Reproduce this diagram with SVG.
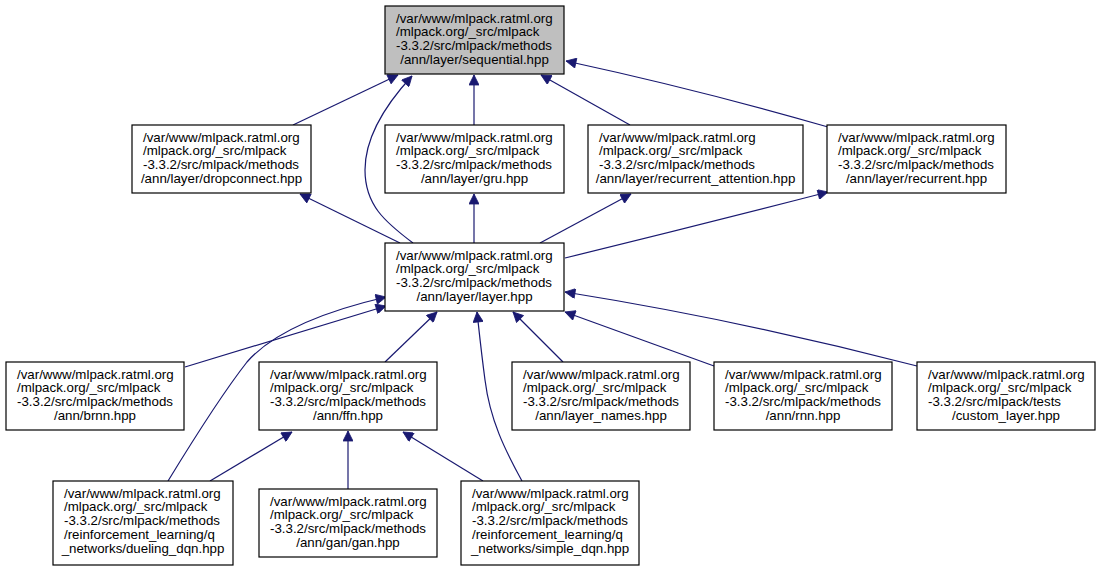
<svg xmlns="http://www.w3.org/2000/svg" width="1101" height="571" viewBox="0 0 1101 571">
<style>
.n rect{fill:#fff;stroke:#000;stroke-width:1.2}
.root rect{fill:#bfbfbf}
text{font-family:"Liberation Sans",Arial,sans-serif;font-size:13.3px;fill:#000}
.c{text-anchor:middle}
.e path{fill:none;stroke:#191970;stroke-width:1.2;marker-end:url(#ah)}
</style>
<defs>
<marker id="ah" viewBox="0 0 10 10" refX="10" refY="5" markerWidth="12" markerHeight="10" markerUnits="userSpaceOnUse" orient="auto">
<path d="M0,0 L10,5 L0,10 z" fill="#191970" stroke="#191970" stroke-width="0.8"/>
</marker>
</defs>
<rect width="1101" height="571" fill="#fff"/>
<g class="e" id="edges">
<path d="M293,125 L398,75"/>
<path d="M413,243 C385,222 365,205 365,170 C365,135 388,102 412,76"/>
<path d="M474,125 L474,75"/>
<path d="M630,125 L541,75"/>
<path d="M828,127 Q700,90 566,61"/>
<path d="M400,243 L300,194"/>
<path d="M474,243 L474,194"/>
<path d="M540,243 L631,194"/>
<path d="M565,258 Q700,225 828,192"/>
<path d="M185,367 L386,306"/>
<path d="M168,481 C190,445 225,390 247,362 C275,330 330,310 386,297"/>
<path d="M385,362 L437,312"/>
<path d="M522,481 C505,450 490,420 485,380 C481,350 479,330 477,312"/>
<path d="M563,362 L513,312"/>
<path d="M714,366 L565,312"/>
<path d="M917,366 Q740,320 565,292"/>
<path d="M210,481 L292,432"/>
<path d="M348,489 L348,431"/>
<path d="M483,481 L403,432"/>
</g>
<g class="n root" id="sequential">
<rect x="385" y="6" width="179" height="68"/>
<text x="396" y="22.5">/var/www/mlpack.ratml.org</text>
<text x="396" y="36.3">/mlpack.org/_src/mlpack</text>
<text x="396" y="50.1">-3.3.2/src/mlpack/methods</text>
<text class="c" x="474.5" y="63.9">/ann/layer/sequential.hpp</text>
</g>
<g class="n" id="dropconnect">
<rect x="132" y="125" width="179" height="68"/>
<text x="143" y="141.5">/var/www/mlpack.ratml.org</text>
<text x="143" y="155.3">/mlpack.org/_src/mlpack</text>
<text x="143" y="169.1">-3.3.2/src/mlpack/methods</text>
<text class="c" x="221.5" y="182.9">/ann/layer/dropconnect.hpp</text>
</g>
<g class="n" id="gru">
<rect x="385" y="125" width="179" height="68"/>
<text x="396" y="141.5">/var/www/mlpack.ratml.org</text>
<text x="396" y="155.3">/mlpack.org/_src/mlpack</text>
<text x="396" y="169.1">-3.3.2/src/mlpack/methods</text>
<text class="c" x="474.5" y="182.9">/ann/layer/gru.hpp</text>
</g>
<g class="n" id="recurrent_attention">
<rect x="588" y="125" width="215" height="68"/>
<text x="599" y="141.5">/var/www/mlpack.ratml.org</text>
<text x="599" y="155.3">/mlpack.org/_src/mlpack</text>
<text x="599" y="169.1">-3.3.2/src/mlpack/methods</text>
<text class="c" x="695.5" y="182.9">/ann/layer/recurrent_attention.hpp</text>
</g>
<g class="n" id="recurrent">
<rect x="827" y="125" width="179" height="68"/>
<text x="838" y="141.5">/var/www/mlpack.ratml.org</text>
<text x="838" y="155.3">/mlpack.org/_src/mlpack</text>
<text x="838" y="169.1">-3.3.2/src/mlpack/methods</text>
<text class="c" x="916.5" y="182.9">/ann/layer/recurrent.hpp</text>
</g>
<g class="n" id="layer">
<rect x="385" y="243" width="179" height="68"/>
<text x="396" y="259.5">/var/www/mlpack.ratml.org</text>
<text x="396" y="273.3">/mlpack.org/_src/mlpack</text>
<text x="396" y="287.1">-3.3.2/src/mlpack/methods</text>
<text class="c" x="474.5" y="300.9">/ann/layer/layer.hpp</text>
</g>
<g class="n" id="brnn">
<rect x="6" y="362" width="178" height="68"/>
<text x="17" y="378.5">/var/www/mlpack.ratml.org</text>
<text x="17" y="392.3">/mlpack.org/_src/mlpack</text>
<text x="17" y="406.1">-3.3.2/src/mlpack/methods</text>
<text class="c" x="95" y="419.9">/ann/brnn.hpp</text>
</g>
<g class="n" id="ffn">
<rect x="259" y="362" width="178" height="68"/>
<text x="270" y="378.5">/var/www/mlpack.ratml.org</text>
<text x="270" y="392.3">/mlpack.org/_src/mlpack</text>
<text x="270" y="406.1">-3.3.2/src/mlpack/methods</text>
<text class="c" x="348" y="419.9">/ann/ffn.hpp</text>
</g>
<g class="n" id="layer_names">
<rect x="512" y="362" width="178" height="68"/>
<text x="523" y="378.5">/var/www/mlpack.ratml.org</text>
<text x="523" y="392.3">/mlpack.org/_src/mlpack</text>
<text x="523" y="406.1">-3.3.2/src/mlpack/methods</text>
<text class="c" x="601" y="419.9">/ann/layer_names.hpp</text>
</g>
<g class="n" id="rnn">
<rect x="714" y="362" width="178" height="68"/>
<text x="725" y="378.5">/var/www/mlpack.ratml.org</text>
<text x="725" y="392.3">/mlpack.org/_src/mlpack</text>
<text x="725" y="406.1">-3.3.2/src/mlpack/methods</text>
<text class="c" x="803" y="419.9">/ann/rnn.hpp</text>
</g>
<g class="n" id="custom_layer">
<rect x="917" y="362" width="178" height="68"/>
<text x="928" y="378.5">/var/www/mlpack.ratml.org</text>
<text x="928" y="392.3">/mlpack.org/_src/mlpack</text>
<text x="928" y="406.1">-3.3.2/src/mlpack/tests</text>
<text class="c" x="1006" y="419.9">/custom_layer.hpp</text>
</g>
<g class="n" id="dueling_dqn">
<rect x="53" y="481" width="180" height="84"/>
<text x="64" y="497.5">/var/www/mlpack.ratml.org</text>
<text x="64" y="511.3">/mlpack.org/_src/mlpack</text>
<text x="64" y="525.1">-3.3.2/src/mlpack/methods</text>
<text x="64" y="538.9">/reinforcement_learning/q</text>
<text class="c" x="143" y="552.7">_networks/dueling_dqn.hpp</text>
</g>
<g class="n" id="gan">
<rect x="259" y="489" width="178" height="68"/>
<text x="270" y="505.5">/var/www/mlpack.ratml.org</text>
<text x="270" y="519.3">/mlpack.org/_src/mlpack</text>
<text x="270" y="533.1">-3.3.2/src/mlpack/methods</text>
<text class="c" x="348" y="546.9">/ann/gan/gan.hpp</text>
</g>
<g class="n" id="simple_dqn">
<rect x="461" y="481" width="178" height="84"/>
<text x="472" y="497.5">/var/www/mlpack.ratml.org</text>
<text x="472" y="511.3">/mlpack.org/_src/mlpack</text>
<text x="472" y="525.1">-3.3.2/src/mlpack/methods</text>
<text x="472" y="538.9">/reinforcement_learning/q</text>
<text class="c" x="550" y="552.7">_networks/simple_dqn.hpp</text>
</g>
</svg>
